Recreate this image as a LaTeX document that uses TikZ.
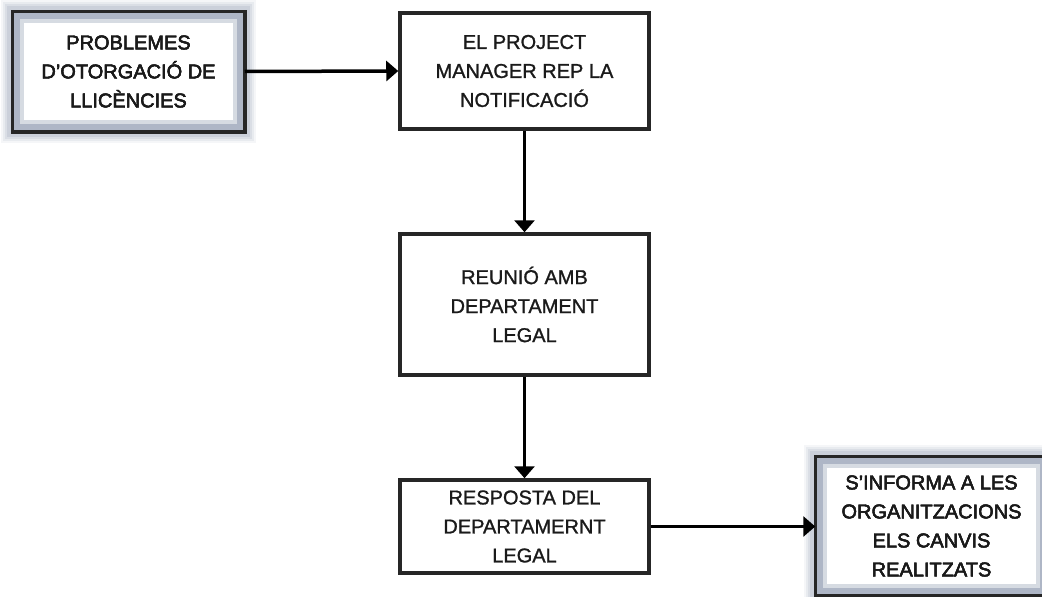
\documentclass[tikz,border=0pt]{standalone}
\usepackage{fontspec}
\setmainfont{Liberation Sans}
\usetikzlibrary{arrows.meta}
\definecolor{glowc}{HTML}{AEB6C6}
\definecolor{edgec}{HTML}{262626}
\definecolor{textc}{HTML}{1A1A1A}
\newfontfamily\boxfont[FakeBold=1.2,Ligatures=TeX]{Liberation Sans}
\tikzset{
  x=1pt, y=-1pt,
  box/.style={draw=edgec, line width=3.5pt, fill=white, align=center, text=textc,
    font=\boxfont\fontsize{20}{29}\selectfont, inner sep=0pt},
  boxtext/.style={align=center, text=textc, font=\boxfont\fontsize{20}{29}\selectfont, inner sep=0pt},
  flow/.style={line width=3.5pt, -{Triangle[length=12pt,width=20pt]}},
}
\newcommand{\glowbox}[1]{%
  \foreach \w/\o in {22/0.12,18/0.18,14/0.25,10/0.35}{
    \draw[glowc, line width=\w pt, opacity=\o] (#1.north west) rectangle (#1.south east);
  }
  \draw[glowc, line width=9pt] ([xshift=4.5pt,yshift=-4.5pt]#1.north west) rectangle ([xshift=-4.5pt,yshift=4.5pt]#1.south east);
  \draw[glowc!50!white, line width=4pt] ([xshift=10pt,yshift=-10pt]#1.north west) rectangle ([xshift=-10pt,yshift=10pt]#1.south east);
  \draw[edgec, line width=3.5pt] (#1.north west) rectangle (#1.south east);
}
\begin{document}
\begin{tikzpicture}
\useasboundingbox (0,0) rectangle (1042,597);
\node[box, minimum width=229pt, minimum height=117pt] (b1) at (128.5,71.5) {PROBLEMES\\D’OTORGACIÓ DE\\LLICÈNCIES};
\node[box, minimum width=249pt, minimum height=116pt] (b2) at (524.5,71) {EL PROJECT\\MANAGER REP LA\\NOTIFICACIÓ};
\node[box, minimum width=249pt, minimum height=141pt] (b3) at (524.5,304.5) {REUNIÓ AMB\\DEPARTAMENT\\LEGAL};
\node[box, minimum width=249pt, minimum height=93pt] (b4) at (524.5,526.5) {RESPOSTA DEL\\DEPARTAMERNT\\LEGAL};
\node[box, minimum width=229pt, minimum height=136pt] (b5) at (931.5,526) {S’INFORMA A LES\\ORGANITZACIONS\\ELS CANVIS\\REALITZATS};
\glowbox{b1}
\glowbox{b5}
\node[boxtext] (t1) at (b1) {PROBLEMES\\D’OTORGACIÓ DE\\LLICÈNCIES};
\node[boxtext] (t5) at (b5) {S’INFORMA A LES\\ORGANITZACIONS\\ELS CANVIS\\REALITZATS};
\draw[flow] (b1.east) -- (b2.west);
\draw[flow] (b2.south) -- (b3.north);
\draw[flow] (b3.south) -- (b4.north);
\draw[flow] (b4.east) -- (b5.west |- b4.east);
\end{tikzpicture}
\end{document}
